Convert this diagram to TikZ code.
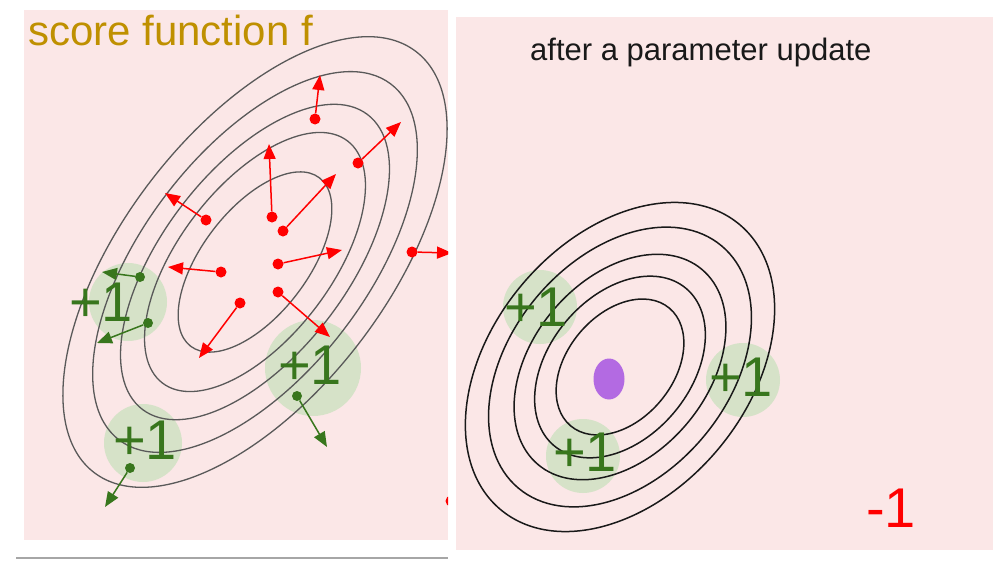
\documentclass[tikz,border=0pt]{standalone}
\usepackage{fontspec}
\setmainfont{Liberation Sans}
\usetikzlibrary{arrows.meta,shapes.geometric}

\definecolor{bgpink}{RGB}{251,231,231}
\definecolor{hitgreen}{RGB}{214,226,200}
\definecolor{plusgreen}{RGB}{56,118,29}
\definecolor{titlegold}{RGB}{191,144,0}
\definecolor{thetapurple}{RGB}{179,106,226}

\tikzset{
  panel/.style={fill=bgpink},
  lvl/.style={draw=black!65,line width=1.3pt},
  lvlb/.style={draw=black!90,line width=1.5pt},
  hit/.style={circle,fill=hitgreen,inner sep=0pt,minimum size=#1},
  pone/.style={text=plusgreen,inner sep=0pt,font=\fontsize{56}{56}\selectfont},
  rdot/.style={circle,fill=red,inner sep=0pt,minimum size=11pt},
  gdot/.style={circle,fill=plusgreen,inner sep=0pt,minimum size=10pt},
  rarr/.style={draw=red,line width=1.5pt,-{Triangle[length=15pt,width=12pt]}},
  garr/.style={draw=plusgreen,line width=1.5pt,-{Triangle[length=15pt,width=12pt]}}
}

\begin{document}
\begin{tikzpicture}[x=1pt,y=-1pt]
\useasboundingbox (0,0) rectangle (993,562);
\fill[panel] (24,10) rectangle (448,540);
\fill[panel] (456,17) rectangle (993,550);
\draw[gray!70,line width=1.2pt] (16,558)--(448,558);

% score function, before the update
\begin{scope}
\clip (24,10) rectangle (448,540);
\node[hit=78pt] (h1) at (128,302) {};
\node[hit=96pt] (h2) at (313,368) {};
\node[hit=78pt] (h3) at (143,443) {};
\foreach \s in {1,.845,.70,.575,.40}
  \draw[lvl,rotate around={52.6:(255,262)}] (255,262) ellipse ({265*\s} and {132*\s});
\node[rdot] (ra) at (315,119) {};
\node[rdot] (rb) at (358,163) {};
\node[rdot] (rc) at (272,217) {};
\node[rdot] (rd) at (283,231) {};
\node[rdot] (re) at (206,220) {};
\node[rdot] (rf) at (221,272) {};
\node[rdot] (rg) at (278,264) {};
\node[rdot] (rh) at (412,252) {};
\node[rdot] (ri) at (240,303) {};
\node[rdot] (rj) at (278,292) {};
\node[rdot] (rk) at (451,501) {};
\coordinate (rat) at (320,75);
\coordinate (rbt) at (401,122);
\coordinate (rct) at (269,144);
\coordinate (rdt) at (336,174);
\coordinate (ret) at (165,193);
\coordinate (rft) at (168,267);
\coordinate (rgt) at (342,250);
\coordinate (rht) at (452,253);
\coordinate (rit) at (199,358);
\coordinate (rjt) at (330,337);
\draw[rarr] (ra)--(rat);
\draw[rarr] (rb)--(rbt);
\draw[rarr] (rc)--(rct);
\draw[rarr] (rd)--(rdt);
\draw[rarr] (re)--(ret);
\draw[rarr] (rf)--(rft);
\draw[rarr] (rg)--(rgt);
\draw[rarr] (rh)--(rht);
\draw[rarr] (ri)--(rit);
\draw[rarr] (rj)--(rjt);
\node[gdot] (ga) at (140,277) {};
\node[gdot] (gb) at (148,323) {};
\node[gdot] (gc) at (297,396) {};
\node[gdot] (gd) at (130,468) {};
\coordinate (gat) at (102,272);
\coordinate (gbt) at (97,343);
\coordinate (gct) at (327,447);
\coordinate (gdt) at (105,507);
\draw[garr] (ga)--(gat);
\draw[garr] (gb)--(gbt);
\draw[garr] (gc)--(gct);
\draw[garr] (gd)--(gdt);
\node[pone] (p1) at (101,302) {+1};
\node[pone] (p2) at (310,365) {+1};
\node[pone] (p3) at (145,440) {+1};
\end{scope}
\node[anchor=base west,inner sep=0pt,text=titlegold,font=\fontsize{42}{42}\selectfont] (title) at (28,45) {score function f};

% after the update
\node[hit=74pt] (h4) at (540,307) {};
\node[hit=74pt] (h5) at (743,380) {};
\node[hit=74pt] (h6) at (583,456) {};
\foreach \s in {1,.85,.685,.552,.413}
  \draw[lvlb,rotate around={50:(620,367)}] (620,367) ellipse ({186*\s} and {128*\s});
\node[ellipse,fill=thetapurple,minimum width=31pt,minimum height=41pt,inner sep=0pt] (w) at (609,379) {};
\node[pone] (p4) at (536,307) {+1};
\node[pone] (p5) at (741,377) {+1};
\node[pone] (p6) at (585,452) {+1};
\node[pone,text=red] (m1) at (891,508) {-1};
\node[anchor=base west,inner sep=0pt,text=black!90,font=\fontsize{31}{31}\selectfont] (after) at (530,60) {after a parameter update};
\end{tikzpicture}
\end{document}
